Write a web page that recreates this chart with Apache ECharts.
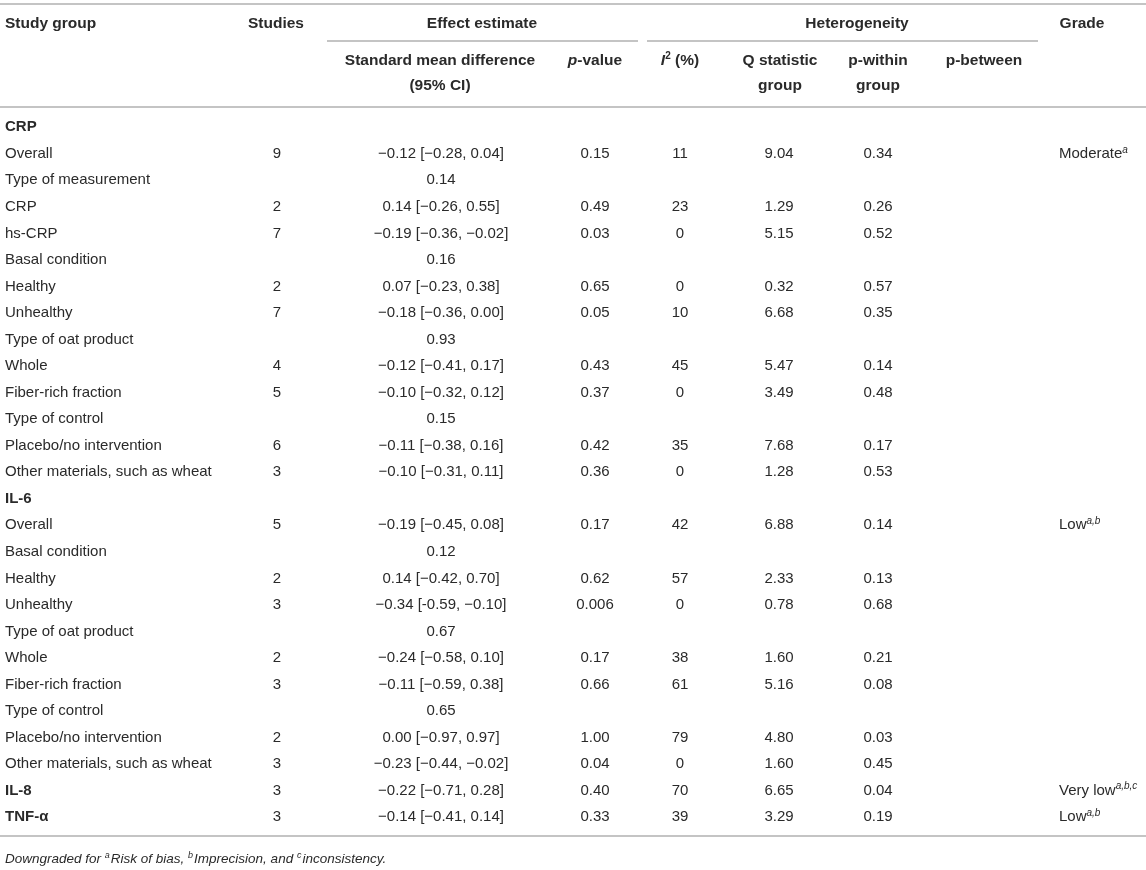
<!DOCTYPE html>
<html>
<head>
<meta charset="utf-8">
<script src="https://cdn.jsdelivr.net/npm/echarts@6/dist/echarts.min.js"></script>
<style>
html,body{margin:0;padding:0;background:#fff;}
#chart{width:1146px;height:870px;}
</style>
</head>
<body>
<div id="chart"></div>
<script>
// ---------- data ----------
var rowLabels = ["CRP","Overall","Type of measurement","CRP","hs-CRP","Basal condition","Healthy","Unhealthy","Type of oat product","Whole","Fiber-rich fraction","Type of control","Placebo/no intervention","Other materials, such as wheat","IL-6","Overall","Basal condition","Healthy","Unhealthy","Type of oat product","Whole","Fiber-rich fraction","Type of control","Placebo/no intervention","Other materials, such as wheat","IL-8","TNF-\u03b1"];
var boldRows = [0, 14, 25, 26];
var studies = ["","9","","2","7","","2","7","","4","5","","6","3","","5","","2","3","","2","3","","2","3","3","3"];
var smdCI = ["","\u22120.12 [\u22120.28, 0.04]","0.14","0.14 [\u22120.26, 0.55]","\u22120.19 [\u22120.36, \u22120.02]","0.16","0.07 [\u22120.23, 0.38]","\u22120.18 [\u22120.36, 0.00]","0.93","\u22120.12 [\u22120.41, 0.17]","\u22120.10 [\u22120.32, 0.12]","0.15","\u22120.11 [\u22120.38, 0.16]","\u22120.10 [\u22120.31, 0.11]","","\u22120.19 [\u22120.45, 0.08]","0.12","0.14 [\u22120.42, 0.70]","\u22120.34 [-0.59, \u22120.10]","0.67","\u22120.24 [\u22120.58, 0.10]","\u22120.11 [\u22120.59, 0.38]","0.65","0.00 [\u22120.97, 0.97]","\u22120.23 [\u22120.44, \u22120.02]","\u22120.22 [\u22120.71, 0.28]","\u22120.14 [\u22120.41, 0.14]"];
var pValues = ["","0.15","","0.49","0.03","","0.65","0.05","","0.43","0.37","","0.42","0.36","","0.17","","0.62","0.006","","0.17","0.66","","1.00","0.04","0.40","0.33"];
var iSquared = ["","11","","23","0","","0","10","","45","0","","35","0","","42","","57","0","","38","61","","79","0","70","39"];
var qStat = ["","9.04","","1.29","5.15","","0.32","6.68","","5.47","3.49","","7.68","1.28","","6.88","","2.33","0.78","","1.60","5.16","","4.80","1.60","6.65","3.29"];
var pWithin = ["","0.34","","0.26","0.52","","0.57","0.35","","0.14","0.48","","0.17","0.53","","0.14","","0.13","0.68","","0.21","0.08","","0.03","0.45","0.04","0.19"];
var pBetween = ["","","","","","","","","","","","","","","","","","","","","","","","","","",""];
var gradeText = ["","Moderate","","","","","","","","","","","","","","Low","","","","","","","","","","Very low","Low"];
var gradeSup = ["","a","","","","","","","","","","","","","","a,b","","","","","","","","","","a,b,c","a,b"];

var headerTop = ["Study group","Studies","Effect estimate","Heterogeneity","Grade"];
var headerSub = ["Standard mean difference","(95% CI)","p-value","I\u00b2 (%)","Q statistic","group","p-within","group","p-between"];

// ---------- layout ----------
var FONT = '"Liberation Sans", Arial, Helvetica, sans-serif';
var FS = 15;
var HFS = 15.5;
var TXT = '#2a2a2a';
var LINE = '#c4c4c4';
var cols = [
  {arr: rowLabels, x: 5, align: 'left', kind: 'label'},
  {arr: studies, x: 277, align: 'center'},
  {arr: smdCI, x: 441, align: 'center'},
  {arr: pValues, x: 595, align: 'center'},
  {arr: iSquared, x: 680, align: 'center'},
  {arr: qStat, x: 779, align: 'center'},
  {arr: pWithin, x: 878, align: 'center'},
  {arr: pBetween, x: 984, align: 'center'},
  {arr: gradeText, x: 1059, align: 'left', kind: 'grade'}
];

var supRich = {
  sup: {fontSize: 10, fontStyle: 'italic', fontFamily: FONT, fill: TXT, padding: [0, 0, 8, 0]}
};

function makeSeries(col) {
  return {
    type: 'custom',
    coordinateSystem: 'cartesian2d',
    silent: true,
    data: col.arr.map(function (v, i) { return [col.x, i]; }),
    renderItem: function (params, api) {
      var idx = params.dataIndex;
      var text = col.arr[idx];
      if (!text) return null;
      var pt = api.coord([api.value(0), api.value(1)]);
      var bold = col.kind === 'label' && boldRows.indexOf(idx) >= 0;
      var str = text;
      if (col.kind === 'grade' && gradeSup[idx]) {
        str = text + '{sup|' + gradeSup[idx] + '}';
      }
      return {
        type: 'text',
        x: pt[0],
        y: pt[1],
        style: {
          text: str,
          fill: TXT,
          fontSize: FS,
          fontWeight: bold ? 'bold' : 'normal',
          fontFamily: FONT,
          align: col.align,
          verticalAlign: 'middle',
          rich: supRich
        }
      };
    }
  };
}

function hText(txt, x, y, align, extra) {
  var st = {
    text: txt, x: x, y: y, fill: TXT, fontSize: HFS, fontWeight: 'bold',
    fontFamily: FONT, align: align, verticalAlign: 'middle'
  };
  if (extra) for (var k in extra) st[k] = extra[k];
  return {type: 'text', silent: true, style: st};
}
function hLine(x1, x2, y) {
  return {type: 'line', silent: true, shape: {x1: x1, y1: y, x2: x2, y2: y}, style: {stroke: LINE, lineWidth: 2}};
}

var boldRich = {
  it: {fontSize: HFS, fontWeight: 'bold', fontStyle: 'italic', fontFamily: FONT, fill: TXT},
  b: {fontSize: HFS, fontWeight: 'bold', fontFamily: FONT, fill: TXT},
  sup2: {fontSize: 10, fontWeight: 'bold', fontFamily: FONT, fill: TXT, padding: [0, 0, 9, 0]}
};

var graphics = [
  hLine(0, 1146, 4),
  hLine(327, 638, 41),
  hLine(647, 1038, 41),
  hLine(0, 1146, 107),
  hLine(0, 1146, 836),
  hText(headerTop[0], 5, 24, 'left'),
  hText(headerTop[1], 276, 24, 'center'),
  hText(headerTop[2], 482, 24, 'center'),
  hText(headerTop[3], 857, 24, 'center'),
  hText(headerTop[4], 1082, 24, 'center'),
  hText(headerSub[0], 440, 61, 'center'),
  hText(headerSub[1], 440, 86, 'center'),
  hText('{it|p}{b|-value}', 595, 61, 'center', {rich: boldRich}),
  hText('{it|I}{sup2|2}{b| (%)}', 680, 61, 'center', {rich: boldRich}),
  hText(headerSub[4], 780, 61, 'center'),
  hText(headerSub[5], 780, 86, 'center'),
  hText(headerSub[6], 878, 61, 'center'),
  hText(headerSub[7], 878, 86, 'center'),
  hText(headerSub[8], 984, 61, 'center'),
  {type: 'text', silent: true, style: {
    text: 'Downgraded for {s|a}Risk of bias, {s|b}Imprecision, and {s|c}inconsistency.',
    x: 5, y: 859, fill: TXT, fontSize: 13.5, fontStyle: 'italic', fontFamily: FONT,
    align: 'left', verticalAlign: 'middle',
    rich: {s: {fontSize: 9, fontStyle: 'italic', fontFamily: FONT, fill: TXT, padding: [0, 1, 8, 0]}}
  }}
];

var chart = echarts.init(document.getElementById('chart'), null, {renderer: 'canvas'});
chart.setOption({
  backgroundColor: '#ffffff',
  animation: false,
  grid: {left: 0, right: 0, top: 114, bottom: 39.5, containLabel: false},
  xAxis: {type: 'value', min: 0, max: 1146, show: false},
  yAxis: {type: 'category', inverse: true, show: false, data: rowLabels.map(function (r, i) { return String(i); })},
  graphic: graphics,
  series: cols.map(makeSeries)
});
</script>
</body>
</html>
